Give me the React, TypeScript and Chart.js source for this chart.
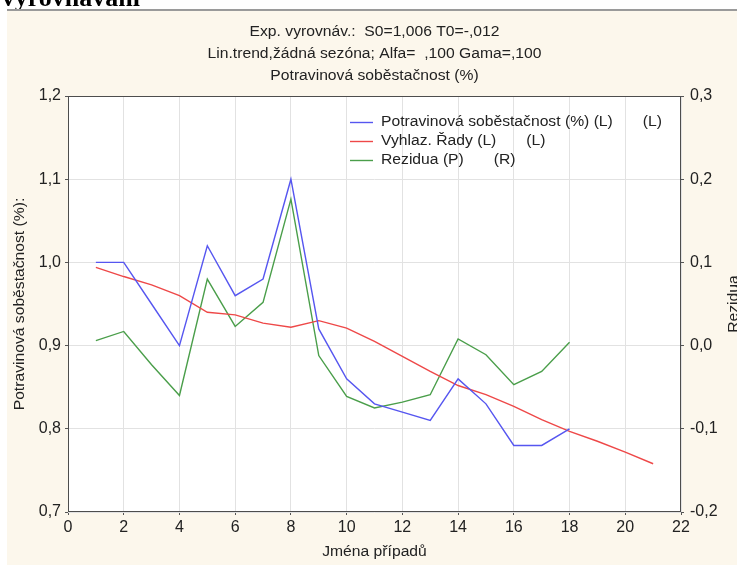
import React, { useEffect, useRef } from "react";
import { Chart, registerables } from "chart.js";

Chart.register(...registerables);

// ---- data ----
const caseNumbers = [1, 2, 3, 4, 5, 6, 7, 8, 9, 10, 11, 12, 13, 14, 15, 16, 17, 18, 19, 20, 21];
const observed = [1.0, 1.0, 0.95, 0.9, 1.02, 0.96, 0.98, 1.1, 0.92, 0.86, 0.83, 0.82, 0.81, 0.86, 0.83, 0.78, 0.78, 0.8];
const smoothed = [0.994, 0.983, 0.973, 0.96, 0.94, 0.937, 0.927, 0.922, 0.93, 0.921, 0.905, 0.887, 0.869, 0.852, 0.841, 0.827, 0.811, 0.797, 0.785, 0.772, 0.758];
const residuals = [0.006, 0.017, -0.023, -0.06, 0.08, 0.023, 0.052, 0.176, -0.012, -0.061, -0.075, -0.068, -0.059, 0.008, -0.011, -0.047, -0.031, 0.004];

const titleLines = [
  "Exp. vyrovnáv.:  S0=1,006 T0=-,012",
  "Lin.trend,žádná sezóna; Alfa=  ,100 Gama=,100",
  "Potravinová soběstačnost (%)",
];
const legendMain = ["Potravinová soběstačnost (%) (L)", "Vyhlaz. Řady (L)", "Rezidua (P)"];
const legendSide = ["(L)", "(L)", "(R)"];
const leftAxisTitle = "Potravinová soběstačnost (%):";
const rightAxisTitle = "Rezidua";
const xAxisTitle = "Jména případů";
const headerText = "nímo vyrovnávání";

const FONT = "'Liberation Sans', Arial, sans-serif";
const TEXT = "#222";
const SX = 1.12;

function drawText(
  ctx: CanvasRenderingContext2D,
  s: string,
  x: number,
  y: number,
  opts: { size?: number; align?: CanvasTextAlign; rot?: number; sx?: number; bold?: boolean; family?: string; color?: string; baseline?: CanvasTextBaseline } = {}
) {
  const { size = 14, align = "center", rot = 0, sx = SX, bold = false, family = FONT, color = TEXT, baseline = "middle" } = opts;
  ctx.save();
  ctx.translate(x, y);
  ctx.rotate(rot);
  ctx.scale(sx, 1);
  ctx.font = `${bold ? "bold " : ""}${size}px ${family}`;
  ctx.textAlign = align;
  ctx.textBaseline = baseline;
  ctx.fillStyle = color;
  ctx.fillText(s, 0, 0);
  ctx.restore();
}

function measure(ctx: CanvasRenderingContext2D, s: string, size = 14) {
  ctx.save();
  ctx.font = `${size}px ${FONT}`;
  const w = ctx.measureText(s).width * SX;
  ctx.restore();
  return w;
}

const fmt = (v: number | string) => {
  const n = Math.round(Number(v) * 10) / 10;
  return (n === 0 ? 0 : n).toFixed(1).replace(".", ",");
};

const decorPlugin = {
  id: "decor",
  beforeDraw(chart: any) {
    const ctx: CanvasRenderingContext2D = chart.ctx;
    const W = chart.width;
    const H = chart.height;
    const a = chart.chartArea;
    ctx.save();
    ctx.fillStyle = "#ffffff";
    ctx.fillRect(0, 0, W, H);
    drawText(ctx, headerText, 140, 6, { size: 26, bold: true, family: "'Liberation Serif', 'Times New Roman', serif", align: "right", sx: 1, color: "#000", baseline: "alphabetic" });
    ctx.fillStyle = "#fcf7ec";
    ctx.fillRect(7, 11, W - 7, H - 11);
    ctx.fillStyle = "#9a9a9a";
    ctx.fillRect(7, 9, W - 7, 2);
    ctx.fillStyle = "#ffffff";
    ctx.fillRect(a.left, a.top, a.right - a.left, a.bottom - a.top);
    ctx.restore();
  },
  beforeDatasetsDraw(chart: any) {
    const ctx: CanvasRenderingContext2D = chart.ctx;
    const a = chart.chartArea;
    ctx.save();
    ctx.strokeStyle = "#4d4d4d";
    ctx.lineWidth = 1;
    ctx.strokeRect(a.left + 0.5, a.top + 0.5, a.right - a.left - 1, a.bottom - a.top - 1);
    ctx.restore();
  },
  afterDraw(chart: any) {
    const ctx: CanvasRenderingContext2D = chart.ctx;
    const a = chart.chartArea;
    const cx = (a.left + a.right) / 2;
    const cy = (a.top + a.bottom) / 2;
    const ys = [32, 54, 76];
    titleLines.forEach((t, i) => drawText(ctx, t, cx, ys[i]));
    drawText(ctx, leftAxisTitle, 20, cy, { rot: -Math.PI / 2 });
    drawText(ctx, rightAxisTitle, 734, cy, { rot: -Math.PI / 2 });
    drawText(ctx, xAxisTitle, cx, 552);
    // legend
    const ds = chart.data.datasets;
    const rowY = [122, 141, 160];
    legendMain.forEach((t, i) => {
      const y = rowY[i];
      ctx.save();
      ctx.strokeStyle = ds[i].borderColor;
      ctx.lineWidth = 1.4;
      ctx.beginPath();
      ctx.moveTo(350, y + 0.5);
      ctx.lineTo(373, y + 0.5);
      ctx.stroke();
      ctx.restore();
      drawText(ctx, t, 381, y, { align: "left" });
      const w = measure(ctx, t);
      drawText(ctx, legendSide[i], 381 + w + 30, y, { align: "left" });
    });
  },
};

export default function App() {
  const ref = useRef<HTMLCanvasElement | null>(null);
  useEffect(() => {
    if (!ref.current) return;
    const tickFont = { family: FONT, size: 16 };
    const chart = new Chart(ref.current, {
      type: "line",
      data: {
        datasets: [
          {
            label: legendMain[0],
            data: observed.map((v, i) => ({ x: caseNumbers[i], y: v })),
            borderColor: "#5656f0",
            yAxisID: "y",
          },
          {
            label: legendMain[1],
            data: smoothed.map((v, i) => ({ x: caseNumbers[i], y: v })),
            borderColor: "#ee4848",
            yAxisID: "y",
          },
          {
            label: legendMain[2],
            data: residuals.map((v, i) => ({ x: caseNumbers[i], y: v })),
            borderColor: "#4a9e4a",
            yAxisID: "y1",
          },
        ],
      },
      options: {
        responsive: false,
        animation: false,
        devicePixelRatio: 1,
        layout: { padding: { top: 96, left: 0, right: 0, bottom: 0 } },
        plugins: { legend: { display: false }, title: { display: false }, tooltip: { enabled: false } },
        elements: { point: { radius: 0 }, line: { tension: 0, borderWidth: 1.4, fill: false } },
        scales: {
          x: {
            type: "linear",
            min: 0,
            max: 22,
            ticks: { stepSize: 2, font: tickFont, color: TEXT, padding: 3, maxRotation: 0 },
            grid: { color: "#e2e2e2", tickColor: "#555", tickLength: 3 },
            border: { display: false },
            afterFit: (s: any) => {
              s.height = 53;
            },
          },
          y: {
            position: "left",
            min: 0.7,
            max: 1.2,
            ticks: { stepSize: 0.1, font: tickFont, color: TEXT, padding: 4, callback: (v: any) => fmt(v) },
            grid: { color: "#e2e2e2", tickColor: "#555", tickLength: 3 },
            border: { display: false },
            afterFit: (s: any) => {
              s.width = 68;
            },
          },
          y1: {
            position: "right",
            min: -0.2,
            max: 0.3,
            ticks: { stepSize: 0.1, font: tickFont, color: TEXT, padding: 6, callback: (v: any) => fmt(v) },
            grid: { drawOnChartArea: false, tickColor: "#555", tickLength: 3 },
            border: { display: false },
            afterFit: (s: any) => {
              s.width = 56;
            },
          },
        },
      },
      plugins: [decorPlugin],
    } as any);
    return () => chart.destroy();
  }, []);
  return (
    <div style={{ position: "fixed", left: 0, top: 0, width: 737, height: 565 }}>
      <canvas ref={ref} width={737} height={565} style={{ display: "block" }} />
    </div>
  );
}
